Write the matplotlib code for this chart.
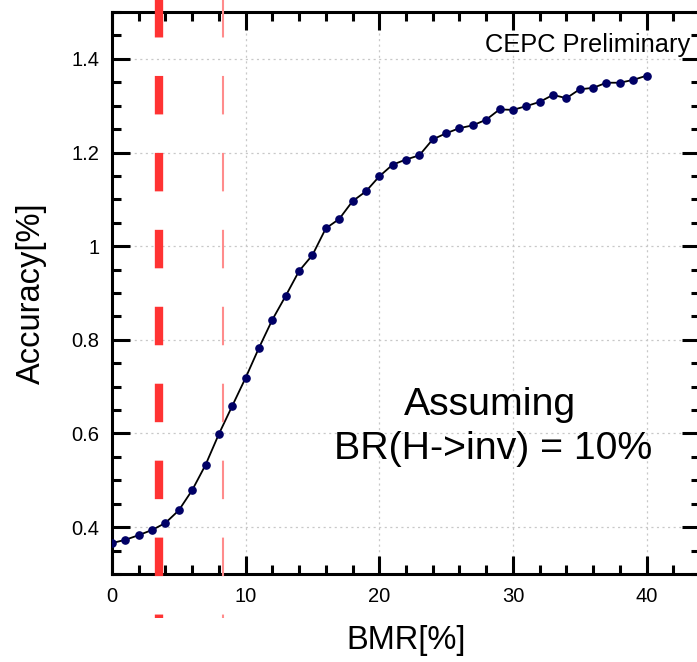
import matplotlib
matplotlib.use("Agg")
import matplotlib.pyplot as plt
from matplotlib.ticker import MultipleLocator

plt.rcParams['font.family'] = ['Liberation Sans', 'DejaVu Sans']
plt.rcParams['lines.scale_dashes'] = False

# Data
bmr = list(range(0, 41))
accuracy = [0.366, 0.373, 0.383, 0.394, 0.409, 0.436, 0.479, 0.533, 0.599, 0.659,
            0.719, 0.783, 0.843, 0.894, 0.947, 0.981, 1.038, 1.058, 1.096, 1.117,
            1.149, 1.174, 1.185, 1.194, 1.228, 1.241, 1.252, 1.258, 1.270, 1.292,
            1.291, 1.299, 1.308, 1.323, 1.316, 1.335, 1.338, 1.349, 1.349, 1.355,
            1.364]
ref_lines = [3.5, 8.3]

W, H = 697, 662
fig = plt.figure(figsize=(W / 100, H / 100), dpi=100)
ax = fig.add_axes([112 / W, (H - 574) / H, (700 - 112) / W, (574 - 12) / H])

ax.set_xlim(0, 44)
ax.set_ylim(0.3, 1.5)

ax.grid(True, which='major', linestyle=(0, (1.5, 2.5)), color='#c8c8c8', linewidth=0.9)
ax.set_axisbelow(True)

ax.plot(bmr, accuracy, color='black', linewidth=1.3, marker='o', markersize=5.2,
        markerfacecolor='#000066', markeredgecolor='#000066', zorder=3)

# reference dashed lines (extend outside frame)
ax.plot([ref_lines[0], ref_lines[0]], [1.5306, 0.2064], color='#ff3333', linewidth=6.0,
        dashes=(27.7, 27.7), clip_on=False, zorder=4, solid_capstyle='butt', dash_capstyle='butt')
ax.plot([ref_lines[1], ref_lines[1]], [1.5306, 0.2064], color='#ff8c8c', linewidth=1.5,
        dashes=(27.7, 27.7), clip_on=False, zorder=4, dash_capstyle='butt')

ax.xaxis.set_major_locator(MultipleLocator(10))
ax.xaxis.set_minor_locator(MultipleLocator(2))
ax.yaxis.set_major_locator(MultipleLocator(0.2))
ax.yaxis.set_minor_locator(MultipleLocator(0.05))

def yfmt(v, pos):
    s = f"{v:.1f}"
    if s.endswith('.0'):
        s = s[:-2]
    return s
ax.yaxis.set_major_formatter(plt.FuncFormatter(yfmt))

ax.tick_params(which='both', direction='in', top=True, right=True, width=2.2, labelsize=14.5)
ax.tick_params(which='major', length=13)
ax.tick_params(which='minor', length=6.5)
ax.tick_params(axis='y', which='major', pad=9)
ax.tick_params(axis='x', which='major', pad=9)
for s in ax.spines.values():
    s.set_linewidth(2.2)

ax.set_xlabel('BMR[%]', fontsize=23.5, labelpad=14)
ax.set_ylabel('Accuracy[%]', fontsize=23.5, labelpad=17.5)

fig.text(690 / W, 1 - 52 / H, 'CEPC Preliminary', fontsize=18.3, ha='right', va='baseline')
fig.text(490 / W, 1 - 415 / H, 'Assuming', fontsize=28.3, ha='center', va='baseline')
fig.text(493 / W, 1 - 459 / H, 'BR(H->inv) = 10%', fontsize=28.3, ha='center', va='baseline')

fig.savefig('out.png', dpi=100)
